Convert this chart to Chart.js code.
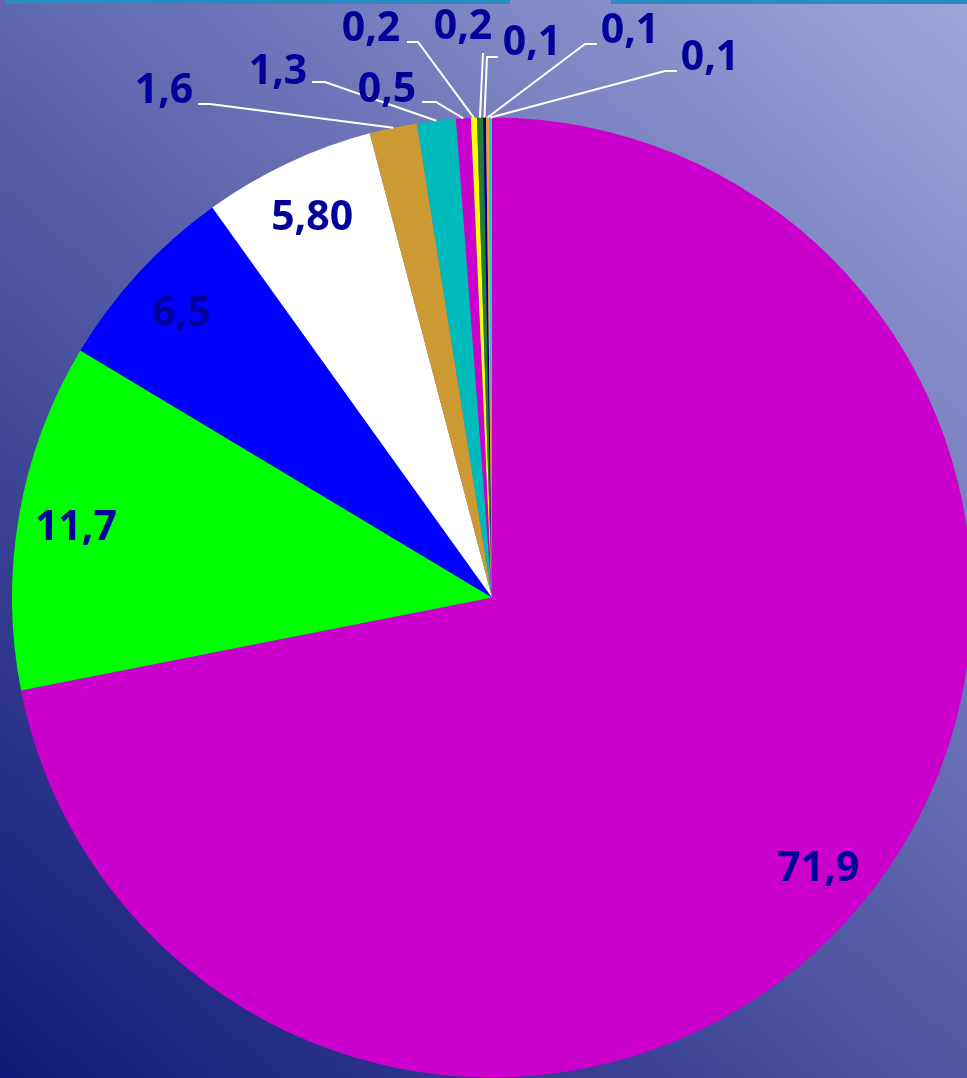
<!DOCTYPE html>
<html>
<head>
<meta charset="utf-8">
<script src="https://cdn.jsdelivr.net/npm/chart.js@4/dist/chart.umd.min.js"></script>
<style>
  html, body { margin: 0; padding: 0; overflow: hidden; background: #3a4290; }
  #wrap { position: relative; width: 984px; height: 1078px; }
</style>
</head>
<body>
<div id="wrap"><canvas id="pie"></canvas></div>
<script>
// ---------- DATA ----------
const values = [71.9, 11.7, 6.5, 5.8, 1.6, 1.3, 0.5, 0.2, 0.2, 0.1, 0.1, 0.1];
const valueLabels = ['71,9', '11,7', '6,5', '5,80', '1,6', '1,3', '0,5', '0,2', '0,2', '0,1', '0,1', '0,1'];
const sliceColors = ['#cc00cc', '#00ff00', '#0000ff', '#ffffff', '#cc9933', '#00bbbb',
                     '#cc00cc', '#ffff00', '#267a3a', '#000080', '#f0a030', '#00dede'];

// callouts for the thin slices: label centre/baseline + leader path (before the arc point)
const callouts = {
  4:  { at: [164, 103], path: [[198, 104], [210, 104]] },
  5:  { at: [278, 84],  path: [[312, 82], [325, 82]] },
  6:  { at: [387, 102], path: [[422, 102], [436, 102]] },
  7:  { at: [371, 41],  path: [[407, 42], [418, 42]] },
  8:  { at: [463, 39],  path: [[483, 53]] },
  9:  { at: [532, 55],  path: [[498, 57], [487, 57]] },
  10: { at: [630, 43],  path: [[597, 44], [585, 44]] },
  11: { at: [710, 70],  path: [[677, 71], [665, 71]] },
};

const FONT = 'bold 41px "Open Sans", "DejaVu Sans", sans-serif';
const TXT = '#00009a';

const backdrop = {
  id: 'backdrop',
  beforeDraw(c) {
    const ctx = c.ctx;
    ctx.save();
    const g = ctx.createLinearGradient(0, 1078, 967, 0);
    g.addColorStop(0, '#111877');
    g.addColorStop(1, '#9ea6da');
    ctx.fillStyle = g;
    ctx.fillRect(0, 0, c.width, c.height);
    ctx.fillStyle = '#2b8ac2';
    ctx.fillRect(6, 0, 504, 4);
    ctx.fillRect(611, 0, 380, 4);
    ctx.restore();
  }
};

const pieLabels = {
  id: 'pieLabels',
  afterDatasetsDraw(c) {
    const ctx = c.ctx;
    const arcs = c.getDatasetMeta(0).data;
    ctx.save();
    ctx.font = FONT;
    ctx.fillStyle = TXT;
    ctx.textAlign = 'center';
    ctx.textBaseline = 'alphabetic';
    arcs.forEach((a, i) => {
      const { x, y, startAngle, endAngle, outerRadius } = a.getProps(['x', 'y', 'startAngle', 'endAngle', 'outerRadius'], true);
      const mid = (startAngle + endAngle) / 2;
      const co = callouts[i];
      if (!co) {
        const r = outerRadius * 0.88;
        ctx.fillText(valueLabels[i], x + Math.cos(mid) * r, y + Math.sin(mid) * r + 15);
        return;
      }
      ctx.strokeStyle = '#ffffff';
      ctx.lineWidth = 2;
      ctx.beginPath();
      co.path.forEach((p, k) => k ? ctx.lineTo(p[0], p[1]) : ctx.moveTo(p[0], p[1]));
      ctx.lineTo(x + Math.cos(mid) * outerRadius, y + Math.sin(mid) * outerRadius);
      ctx.stroke();
      ctx.fillText(valueLabels[i], co.at[0], co.at[1]);
    });
    ctx.restore();
  }
};

new Chart(document.getElementById('pie'), {
  type: 'pie',
  data: {
    labels: valueLabels,
    datasets: [{ data: values, backgroundColor: sliceColors, borderWidth: 0, hoverOffset: 0 }]
  },
  options: {
    responsive: true,
    maintainAspectRatio: false,
    animation: false,
    events: [],
    layout: { padding: { left: 12, right: 12, top: 117, bottom: 0 } },
    plugins: { legend: { display: false }, tooltip: { enabled: false } }
  },
  plugins: [backdrop, pieLabels]
});
</script>
</body>
</html>
